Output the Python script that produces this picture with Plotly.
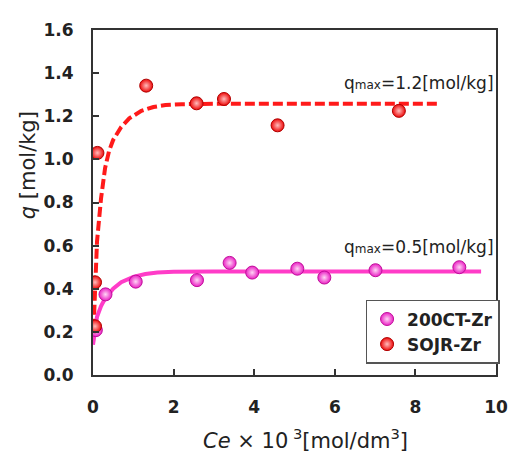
import plotly.graph_objects as go

# ---- data ----
ce_200ct = [0.07, 0.31, 1.06, 2.58, 3.39, 3.95, 5.07, 5.74, 7.01, 9.09]
q_200ct = [0.208, 0.374, 0.433, 0.44, 0.52, 0.475, 0.493, 0.452, 0.486, 0.50]

ce_sojr = [0.05, 0.05, 0.11, 1.32, 2.57, 3.25, 4.58, 7.59]
q_sojr = [0.226, 0.43, 1.03, 1.342, 1.26, 1.28, 1.158, 1.225]

fit_ce_sojr = [0.0, 0.05, 0.1, 0.2, 0.3, 0.4, 0.5, 0.7, 0.9, 1.2, 1.5, 1.8, 2.2, 3.0, 5.0, 8.6]
fit_q_sojr = [0.15, 0.42, 0.62, 0.82, 0.96, 1.04, 1.09, 1.15, 1.19, 1.225, 1.243, 1.252, 1.256, 1.258, 1.258, 1.258]

fit_ce_200ct = [0.0, 0.05, 0.1, 0.2, 0.3, 0.5, 0.7, 1.0, 1.3, 1.6, 2.0, 3.0, 5.0, 9.63]
fit_q_200ct = [0.14, 0.22, 0.27, 0.32, 0.355, 0.40, 0.43, 0.455, 0.468, 0.475, 0.479, 0.48, 0.48, 0.48]

x_ticks = [0, 2, 4, 6, 8, 10]
y_ticks = [0.0, 0.2, 0.4, 0.6, 0.8, 1.0, 1.2, 1.4, 1.6]

PINK = "#ff3cc8"
RED = "#ff1a1a"
FONT = "DejaVu Sans, Liberation Sans, sans-serif"
TXT = "#222222"

# the page body has an 8px margin, so the figure is 8px smaller than the window
W, H = 512, 447
ML, MR, MT, MB = 85, 13, 13, 80
PW, PH = W - ML - MR, H - MT - MB


def px_to_paper(px, py):
    # px, py are target window pixels
    return (px - 8 - ML) / PW, (H - MB - (py - 8)) / PH


fig = go.Figure()

fig.add_trace(go.Scatter(x=fit_ce_sojr, y=fit_q_sojr, mode="lines",
                         line=dict(color=RED, width=4, dash="10px,4px"),
                         showlegend=False, hoverinfo="skip"))
fig.add_trace(go.Scatter(x=fit_ce_200ct, y=fit_q_200ct, mode="lines",
                         line=dict(color=PINK, width=4),
                         showlegend=False, hoverinfo="skip"))

fig.add_trace(go.Scatter(x=ce_200ct, y=q_200ct, mode="markers", name="200CT-Zr",
                         marker=dict(size=13, color="#ea20c4",
                                     gradient=dict(type="radial", color="#ffd6f5"),
                                     line=dict(color="#c0109a", width=1))))
fig.add_trace(go.Scatter(x=ce_sojr, y=q_sojr, mode="markers", name="SOJR-Zr",
                         marker=dict(size=13, color="#ee0a0a",
                                     gradient=dict(type="radial", color="#ffbcbc"),
                                     line=dict(color="#b00000", width=1))))

axis_common = dict(
    showline=True, linecolor="#333333", linewidth=2, mirror=True,
    ticks="inside", ticklen=6, tickwidth=1.5, tickcolor="#333333",
    showgrid=False, zeroline=False,
    tickfont=dict(family=FONT, size=17, color=TXT, weight="bold"),
)

fig.update_xaxes(range=[0, 10], tickvals=x_ticks, ticktext=[str(v) for v in x_ticks],
                 ticklabelstandoff=16, **axis_common)
fig.update_yaxes(range=[0, 1.6], tickvals=y_ticks, ticktext=[f"{v:.1f}" for v in y_ticks],
                 ticklabelstandoff=14, **axis_common)

lx, ly = px_to_paper(373, 298)
yt = px_to_paper(27, 160)
xt = px_to_paper(311, 441)

fig.update_layout(
    width=W, height=H,
    margin=dict(l=ML, r=MR, t=MT, b=MB),
    paper_bgcolor="white", plot_bgcolor="white",
    font=dict(family=FONT, color=TXT),
    legend=dict(x=lx, y=ly, xanchor="left", yanchor="top",
                bordercolor="#555555", borderwidth=1.5, bgcolor="white",
                font=dict(family=FONT, size=17, color=TXT, weight="bold"),
                itemwidth=30, tracegroupgap=2),
    annotations=[
        dict(text="q<span style='font-size:12px'>max</span>=1.2[mol/kg]", x=1.0, y=1.353,
             xref="x domain", yref="y", xanchor="right", yanchor="middle", showarrow=False,
             font=dict(family=FONT, size=17, color=TXT)),
        dict(text="q<span style='font-size:12px'>max</span>=0.5[mol/kg]", x=1.0, y=0.593,
             xref="x domain", yref="y", xanchor="right", yanchor="middle", showarrow=False,
             font=dict(family=FONT, size=17, color=TXT)),
        dict(text="<i>q</i> [mol/kg]", x=yt[0], y=yt[1], xref="paper", yref="paper",
             xanchor="center", yanchor="middle",
             showarrow=False, textangle=-90, font=dict(family=FONT, size=21, color=TXT)),
        dict(text="<i>Ce</i> \u00d7 10<sup> 3</sup>[mol/dm<sup>3</sup>]", x=xt[0], y=xt[1],
             xref="paper", yref="paper", xanchor="center", yanchor="middle", showarrow=False,
             font=dict(family=FONT, size=21, color=TXT)),
    ],
)

fig.write_html("out.html")
